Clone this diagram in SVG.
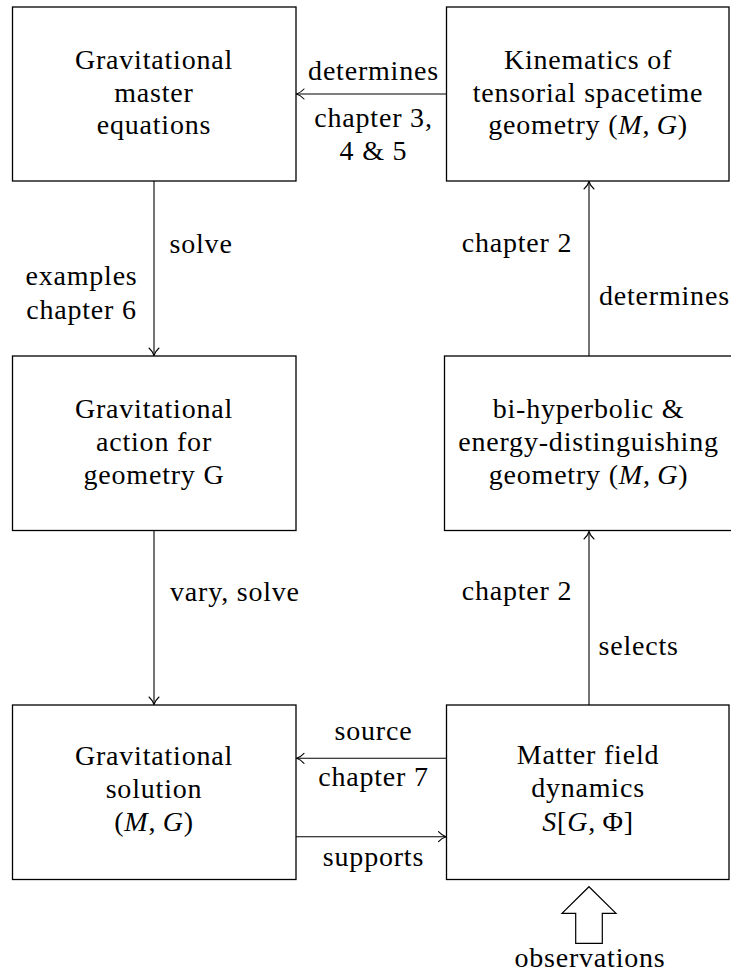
<svg xmlns="http://www.w3.org/2000/svg" width="731" height="974" viewBox="0 0 731 974">
<style>
  .box { fill: #ffffff; stroke: #000000; stroke-width: 1.3; }
  .t { font-family: 'Liberation Serif', 'DejaVu Serif', serif; font-size: 28px; letter-spacing: 0.8px; fill: #000000; }
  .c { text-anchor: middle; }
  .i { font-style: italic; }
  .edge { fill: none; stroke: #000000; stroke-width: 1.1; marker-end: url(#tip); }
</style>
<defs>
  <marker id="tip" markerUnits="userSpaceOnUse" orient="auto" markerWidth="12" markerHeight="12" refX="0" refY="0" viewBox="-10 -6 12 12" overflow="visible">
    <path d="M -7.5 -5 C -5 -2.2, -2 -0.6, 0 0 C -2 0.6, -5 2.2, -7.5 5" fill="none" stroke="#000000" stroke-width="1.1" stroke-linecap="round"/>
  </marker>
</defs>
<rect width="731" height="974" fill="#ffffff"/>

<g id="connectors">
  <line class="edge" x1="446.5" y1="94" x2="296.5" y2="94"/>
  <line class="edge" x1="154" y1="181" x2="154" y2="355.5"/>
  <line class="edge" x1="154" y1="531" x2="154" y2="704.5"/>
  <line class="edge" x1="589" y1="356" x2="589" y2="181.5"/>
  <line class="edge" x1="589" y1="705" x2="589" y2="531.5"/>
  <line class="edge" x1="446.5" y1="758.3" x2="296.5" y2="758.3"/>
  <line class="edge" x1="296" y1="836.7" x2="446" y2="836.7"/>
  <g id="observations-arrow">
    <polygon points="589,886.7 616,913.3 602.3,913.3 602.3,943.3 575.7,943.3 575.7,913.3 562,913.3" fill="#ffffff" stroke="#000000" stroke-width="1.2" stroke-linejoin="miter"/>
  </g>
  <g id="edge-labels">
    <text class="t c" x="373.5" y="80">determines</text>
    <text class="t c" x="373.5" y="127">chapter 3,</text>
    <text class="t c" x="373.5" y="160">4 &amp; 5</text>
    <text class="t" x="169.5" y="253">solve</text>
    <text class="t c" x="81.5" y="285">examples</text>
    <text class="t c" x="81.5" y="318.5">chapter 6</text>
    <text class="t c" x="517" y="252">chapter 2</text>
    <text class="t" x="599" y="305">determines</text>
    <text class="t" x="170" y="601">vary, solve</text>
    <text class="t c" x="517" y="600">chapter 2</text>
    <text class="t" x="598.5" y="655">selects</text>
    <text class="t c" x="373.5" y="740">source</text>
    <text class="t c" x="373.5" y="785.5">chapter 7</text>
    <text class="t c" x="373.5" y="866">supports</text>
    <text class="t c" x="590" y="967">observations</text>
  </g>
</g>

<g id="master-equations">
  <rect class="box" x="12.5" y="7" width="283.5" height="174"/>
  <text class="t c" x="154" y="69">Gravitational</text>
  <text class="t c" x="154" y="101.5">master</text>
  <text class="t c" x="154" y="134">equations</text>
</g>

<g id="kinematics">
  <rect class="box" x="446.5" y="7" width="282.5" height="174"/>
  <text class="t c" x="588" y="69">Kinematics of</text>
  <text class="t c" x="588" y="101.5">tensorial spacetime</text>
  <text class="t c" x="588" y="134">geometry (<tspan class="i">M</tspan>,&#8201;<tspan class="i">G</tspan>)</text>
</g>

<g id="gravitational-action">
  <rect class="box" x="12.5" y="356" width="283.5" height="174.5"/>
  <text class="t c" x="154" y="418">Gravitational</text>
  <text class="t c" x="154" y="451">action for</text>
  <text class="t c" x="154" y="483.5">geometry G</text>
</g>

<g id="bi-hyperbolic">
  <rect class="box" x="444.5" y="356" width="289" height="174.5"/>
  <text class="t c" x="588.5" y="418">bi-hyperbolic &amp;</text>
  <text class="t c" x="588.5" y="451">energy-distinguishing</text>
  <text class="t c" x="588.5" y="483.5">geometry (<tspan class="i">M</tspan>,&#8201;<tspan class="i">G</tspan>)</text>
</g>

<g id="gravitational-solution">
  <rect class="box" x="12.5" y="705" width="283.5" height="174.5"/>
  <text class="t c" x="154" y="764.5">Gravitational</text>
  <text class="t c" x="154" y="797.5">solution</text>
  <text class="t c" x="154" y="830.5">(<tspan class="i">M</tspan>,&#8201;<tspan class="i">G</tspan>)</text>
</g>

<g id="matter-field">
  <rect class="box" x="446.5" y="705" width="282.5" height="174.5"/>
  <text class="t c" x="588" y="763.5">Matter field</text>
  <text class="t c" x="588" y="796.5">dynamics</text>
  <text class="t c" x="588" y="830.5"><tspan class="i">S</tspan>[<tspan class="i">G</tspan>,&#8201;Φ]</text>
</g>
</svg>
